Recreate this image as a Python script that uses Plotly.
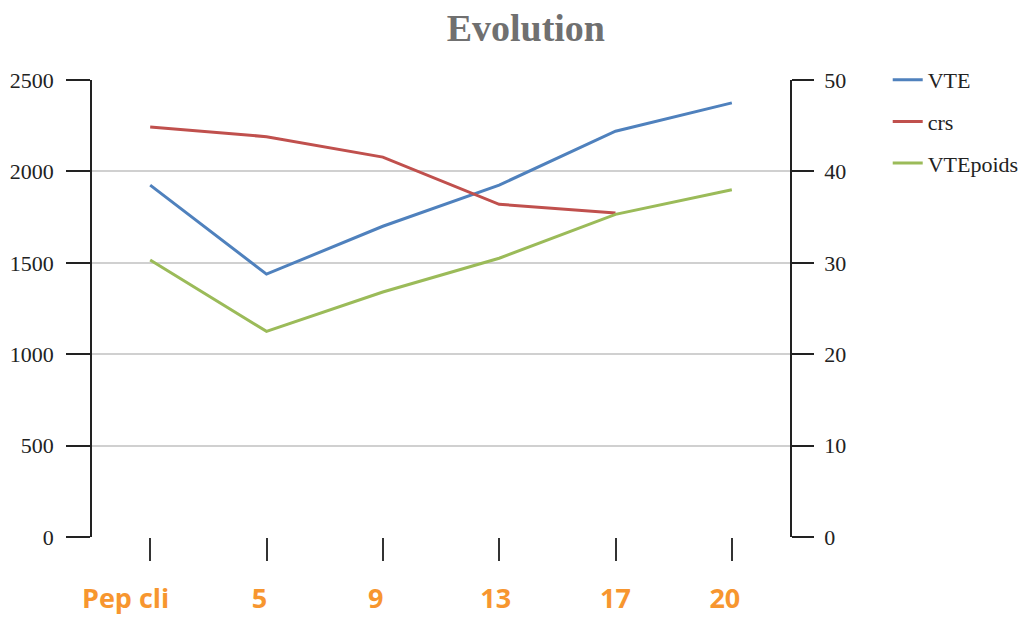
import plotly.graph_objects as go

categories = ["Pep cli", "5", "9", "13", "17", "20"]
category_labels = ["Pep cli" + "&nbsp;" * 7, "5" + "&nbsp;" * 2, "9" + "&nbsp;" * 2,
                   "13" + "&nbsp;", "17", "20" + "&nbsp;" * 2]
vte = [1925, 1438, 1700, 1925, 2220, 2375]
crs = [2243, 2190, 2078, 1820, 1772, None]
vte_poids = [30.3, 22.5, 26.8, 30.5, 35.3, 38.0]

left_ticks = [0, 500, 1000, 1500, 2000, 2500]
right_ticks = [0, 10, 20, 30, 40, 50]

serif = "Liberation Serif"

fig = go.Figure()
fig.add_trace(go.Scatter(x=categories, y=vte, name="VTE", mode="lines",
                         line=dict(color="#4F81BD", width=3), legendgroup="a"))
fig.add_trace(go.Scatter(x=categories, y=crs, name="crs", mode="lines",
                         line=dict(color="#C0504D", width=3), legendgroup="b"))
fig.add_trace(go.Scatter(x=categories, y=vte_poids, name="VTEpoids", mode="lines",
                         line=dict(color="#9BBB59", width=3), legendgroup="c", yaxis="y2"))

fig.update_layout(
    width=1027, height=617,
    margin=dict(l=92, r=237, t=80, b=80, autoexpand=False),
    paper_bgcolor="white", plot_bgcolor="white",
    title=dict(text="<b>Evolution</b>", x=0.512, xanchor="center", y=0.955, yanchor="middle",
               font=dict(family=serif, size=38, color="#707070")),
    xaxis=dict(type="category", range=[-0.5, 5.5], showgrid=False, automargin=False,
               tickvals=categories, ticktext=category_labels,
               showline=False, ticks="outside", ticklen=23, tickwidth=1.5, tickcolor="#333",
               ticklabelstandoff=15,
               tickfont=dict(family="Open Sans", size=27, color="#F7962F", weight="bold"),
               zeroline=False),
    yaxis=dict(range=[0, 2500], tickvals=left_ticks, showgrid=True, gridcolor="#d0d0d0", gridwidth=1.5,
               showline=True, linecolor="#222", linewidth=1.5, ticks="outside", ticklen=24,
               tickwidth=1.5, tickcolor="#222", zeroline=False, automargin=False,
               ticklabelstandoff=8,
               tickfont=dict(family=serif, size=22, color="#222")),
    yaxis2=dict(range=[0, 50], tickvals=right_ticks, overlaying="y", side="right", showgrid=False,
                showline=True, linecolor="#222", linewidth=1.5, ticks="outside", ticklen=22,
                tickwidth=1.5, tickcolor="#222", zeroline=False, automargin=False,
                ticklabelstandoff=6,
                tickfont=dict(family=serif, size=22, color="#222")),
    legend=dict(x=1.14, y=1.046, xanchor="left", yanchor="top", tracegroupgap=10,
                font=dict(family=serif, size=22, color="#222"), itemwidth=30),
    showlegend=True,
)

fig.write_html("out.html", config={"displayModeBar": False},
               post_script="document.body.style.margin='0';")
